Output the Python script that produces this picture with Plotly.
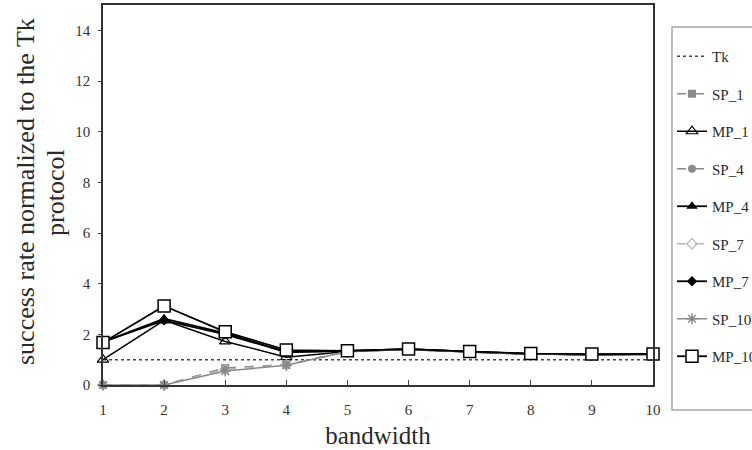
import plotly.graph_objects as go

bandwidth = [1, 2, 3, 4, 5, 6, 7, 8, 9, 10]
tk = [1, 1, 1, 1, 1, 1, 1, 1, 1, 1]
sp_1 = [0, 0, 0.67, 0.8, 1.32, 1.4, 1.3, 1.22, 1.2, 1.2]
mp_1 = [1.0, 2.55, 1.72, 1.1, 1.32, 1.4, 1.3, 1.22, 1.2, 1.22]
sp_4 = [0, 0, 0.67, 0.8, 1.32, 1.4, 1.3, 1.22, 1.2, 1.2]
mp_4 = [1.7, 2.62, 2.05, 1.3, 1.35, 1.42, 1.32, 1.23, 1.2, 1.22]
sp_7 = [0, 0, 0.62, 0.8, 1.32, 1.4, 1.3, 1.22, 1.2, 1.2]
mp_7 = [1.7, 2.55, 2.0, 1.3, 1.35, 1.42, 1.32, 1.23, 1.2, 1.22]
sp_10 = [0, 0, 0.55, 0.78, 1.32, 1.4, 1.3, 1.22, 1.2, 1.2]
mp_10 = [1.68, 3.12, 2.1, 1.38, 1.35, 1.42, 1.32, 1.24, 1.22, 1.22]
y_title_lines = ["success rate normalized to the Tk", "protocol"]

FONT = "Liberation Serif, Times New Roman, serif"
GRAY = "#8a8a8a"
LGRAY = "#b5b5b5"
TXT = "#2a2a2a"

series = [
    ("Tk", tk, dict(color="#444444", width=1.5, dash="dot"), dict(size=1, opacity=0), "lines"),
    ("SP_1", sp_1, dict(color=GRAY, width=1.5, dash="dash"), dict(symbol="square", size=8, color=GRAY), "lines+markers"),
    ("MP_1", mp_1, dict(color="black", width=1.5), dict(symbol="triangle-up-open", size=10, color="black", line=dict(width=1.2)), "lines+markers"),
    ("SP_4", sp_4, dict(color=GRAY, width=1.5, dash="dash"), dict(symbol="circle", size=8, color=GRAY), "lines+markers"),
    ("MP_4", mp_4, dict(color="black", width=1.8), dict(symbol="triangle-up", size=10, color="black"), "lines+markers"),
    ("SP_7", sp_7, dict(color=LGRAY, width=1.5, dash="dash"), dict(symbol="diamond-open", size=8, color=LGRAY, line=dict(width=1.2)), "lines+markers"),
    ("MP_7", mp_7, dict(color="black", width=1.8), dict(symbol="diamond", size=8, color="black"), "lines+markers"),
    ("SP_10", sp_10, dict(color=GRAY, width=1.5), dict(symbol="asterisk-open", size=9, color=GRAY, line=dict(width=1.5, color=GRAY)), "lines+markers"),
    ("MP_10", mp_10, dict(color="black", width=1.8), dict(symbol="square", size=12, color="white", line=dict(width=1.5, color="black")), "lines+markers"),
]

fig = go.Figure()
for name, ys, line, marker, mode in series:
    fig.add_trace(go.Scatter(
        x=bandwidth, y=ys, name=name, mode=mode,
        line=line, marker=marker, legendgroup=name, cliponaxis=False,
    ))

# legend frame (drawn as a shape so its padding can match the reference)
fig.add_shape(type="rect", xref="paper", yref="paper",
              x0=1.0345, x1=1.25, y0=-0.066, y1=0.942,
              line=dict(color="#a8a8a8", width=1.5), fillcolor="rgba(0,0,0,0)", layer="above")

# two-line y-axis title as rotated annotations (tighter line spacing)
for txt, xpx in zip(y_title_lines, [25, 55]):
    fig.add_annotation(text=txt, xref="paper", yref="paper",
                       x=(xpx - 103) / 550, y=(385 - 192) / 380,
                       xanchor="center", yanchor="middle", textangle=-90,
                       showarrow=False, font=dict(family=FONT, size=26, color=TXT))

fig.update_layout(
    width=752, height=450,
    margin=dict(l=103, r=99, t=5, b=65, autoexpand=False),
    paper_bgcolor="white", plot_bgcolor="white",
    font=dict(family=FONT, color=TXT),
    showlegend=True,
    legend=dict(
        xref="container", yref="container",
        x=672 / 752, y=1 - 40 / 450, xanchor="left", yanchor="top",
        borderwidth=0, bgcolor="rgba(0,0,0,0)",
        font=dict(family=FONT, size=15, color=TXT),
        tracegroupgap=15, itemwidth=30, maxheight=440,
    ),
    xaxis=dict(
        range=[1, 10], tickvals=bandwidth, ticks="inside", ticklen=5,
        showline=True, linecolor="#333333", linewidth=1.5, mirror=True,
        showgrid=False, zeroline=False, automargin=False,
        tickfont=dict(family=FONT, size=15, color="#333333"),
        ticklabelstandoff=10,
        title=dict(text="bandwidth", font=dict(family=FONT, size=25, color=TXT), standoff=10),
    ),
    yaxis=dict(
        range=[0, 15], tickvals=[0, 2, 4, 6, 8, 10, 12, 14], ticks="outside", ticklen=3,
        showline=True, linecolor="#333333", linewidth=1.5, mirror=True,
        showgrid=False, zeroline=False, automargin=False,
        tickfont=dict(family=FONT, size=15, color="#333333"),
        ticklabelstandoff=5,
    ),
)

fig.write_html("out.html", config={"displayModeBar": False},
               post_script="document.body.style.margin='0';")
